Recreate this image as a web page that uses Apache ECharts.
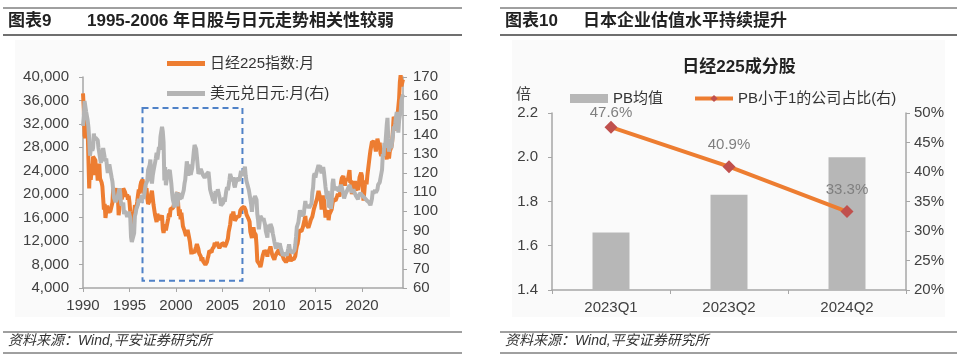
<!DOCTYPE html>
<html><head><meta charset="utf-8">
<script src="https://cdn.jsdelivr.net/npm/echarts@6/dist/echarts.min.js"></script>
<style>html,body{margin:0;padding:0;background:#fff}#c{width:960px;height:360px}</style>
</head><body><div id="c"></div>
<script>
// ---------- Left chart data (monthly, Jan 1990 - Jun 2024) ----------
const startYear = 1990;
const nikkei = [
37189,34592,29980,29584,33131,31940,31036,25978,20984,25194,22455,23849,
23293,26409,26292,26111,25790,23291,24121,22336,23916,25222,22687,22984,
22023,21339,19346,17391,18348,15952,15910,18061,17399,16767,17684,16925,
17024,16953,18591,20919,20552,19591,20380,21027,20106,19704,16408,17417,
20229,19997,19112,19725,20974,20644,20449,20629,19564,19990,19076,19723,
18650,17053,16140,16807,15437,14518,16678,18117,17913,17655,18744,19868,
20813,20125,21407,22041,21956,22531,20693,20167,21556,20467,21020,19361,
18330,18557,18003,19151,20069,20605,20331,18229,17888,16458,16636,15259,
16628,16832,16527,15641,15671,15831,16379,14108,13406,13565,14884,13842,
14499,14368,15837,16702,16112,17530,17862,17437,17606,17942,18558,18934,
19540,19960,20337,17974,16332,17411,15727,16861,15747,14540,14649,13786,
13844,12883,12999,13934,13262,12969,11861,10714,9775,10366,10697,10543,
9998,10587,11025,11493,11764,10622,9877,9620,9383,8640,9216,8579,
8340,8363,7973,7831,8425,9083,9563,10344,10219,10560,10101,10677,
10784,11042,11715,11762,11236,11859,11326,11082,10824,10771,10899,11489,
11388,11741,11669,11009,11277,11584,11900,12414,13574,13607,14872,16111,
16650,16205,17060,16907,15467,15505,15457,16141,16128,16399,16274,17226,
17383,17604,17288,17400,17876,18138,17249,16569,16786,16738,15681,15308,
13592,13603,12526,13850,14339,13482,13377,13073,11260,8577,8512,8860,
7994,7568,8110,8828,9523,9958,10357,10493,10133,10035,9346,10546,
10198,10126,11090,11057,9769,9383,9537,8824,9369,9202,9937,10229,
10238,10624,9755,9850,9694,9816,9833,8955,8700,8988,8435,8455,
8803,9723,10084,9521,8543,9007,8695,8840,8870,8928,9446,10395,
11139,11559,12398,13861,13775,13677,13668,13389,14456,14328,15662,16291,
14915,14841,14828,14304,14632,15162,15621,15425,16174,16414,17460,17451,
17674,18798,19207,19520,20563,20236,20585,18890,17388,19083,19747,19034,
17518,16027,16759,16666,17235,15576,16569,16887,16450,17425,18308,19114,
19041,19119,18909,19197,19651,20033,19925,19646,20356,22012,22725,22765,
23098,22068,21454,22468,22202,22305,22554,22865,24120,21920,22351,20015,
20773,21385,21206,22259,20601,21276,21522,20704,21756,22927,23294,23657,
23205,21143,18917,20194,21878,22288,21710,23140,23185,22977,26434,27444,
27663,28966,29179,28813,28860,28792,27284,28090,29453,28893,27822,28792,
27002,26527,27821,26848,27280,26393,27802,28092,25937,27587,27969,26095,
27327,27446,28041,28856,30888,33189,33172,32619,31858,30859,33487,33464,
36287,39166,40369,38406,38488,39583
];
const usdjpy = [
144.5,149.5,157.5,158.5,152.0,152.9,147.5,144.0,138.0,129.0,132.0,135.4,
131.5,133.0,140.5,137.0,138.5,138.0,137.5,137.0,133.0,130.5,129.5,125.2,
125.5,129.5,133.0,133.5,128.0,126.0,127.5,123.0,120.0,123.0,124.5,124.8,
124.8,117.5,115.5,111.0,107.0,106.5,104.8,104.5,105.5,108.0,109.0,111.9,
109.5,104.5,103.0,102.5,104.5,98.5,100.0,99.5,98.5,97.0,98.5,99.7,
99.5,96.5,86.5,84.0,84.5,84.8,88.5,97.5,99.0,101.5,101.5,103.5,
106.5,104.5,106.5,104.5,108.5,109.5,106.5,108.5,111.5,114.0,113.5,115.9,
121.5,120.5,124.0,127.0,116.5,114.5,118.5,121.0,120.5,120.5,127.5,130.5,
127.0,126.5,133.5,132.0,139.0,138.5,144.0,141.5,136.0,116.0,123.0,113.6,
116.5,119.5,119.5,119.5,121.5,121.0,114.5,109.5,106.0,104.5,102.0,102.2,
107.5,110.0,102.5,108.0,107.5,106.0,109.5,106.5,108.0,109.0,111.0,114.4,
116.5,117.5,126.0,123.5,118.5,124.5,125.0,119.0,119.5,122.5,123.5,131.0,
134.5,133.5,132.5,128.5,124.0,119.5,120.0,118.5,122.0,122.5,122.5,118.8,
119.5,117.5,118.0,119.0,119.0,119.5,120.5,116.5,111.5,110.0,109.5,107.2,
105.5,109.5,104.0,110.5,109.5,109.0,111.5,109.5,110.0,105.8,103.0,102.6,
103.5,104.5,107.2,105.0,108.0,110.8,112.5,111.0,113.5,116.3,119.5,117.9,
117.2,115.8,117.8,113.8,112.5,114.5,114.6,117.3,118.0,116.9,115.9,119.0,
121.0,118.5,117.8,119.5,121.7,123.2,118.6,115.8,114.8,115.3,111.2,111.7,
106.4,103.8,99.7,104.0,105.5,106.2,107.9,108.8,106.0,98.4,95.3,90.6,
89.9,97.6,98.3,98.6,95.3,96.4,94.7,93.0,89.6,90.1,86.3,93.0,
90.3,89.0,93.4,94.1,91.2,88.4,86.4,84.2,83.5,80.4,83.7,81.2,
82.1,81.8,83.2,81.2,81.5,80.5,77.0,76.6,77.1,78.2,77.6,76.9,
76.3,80.7,82.8,80.1,78.4,79.8,78.1,78.4,78.0,79.8,82.5,86.7,
91.7,92.6,94.2,97.4,100.5,99.1,97.9,98.2,98.3,98.4,102.4,105.3,
102.0,101.8,103.2,102.2,101.8,101.3,102.8,104.1,109.7,112.3,118.6,119.8,
117.5,119.6,120.1,119.4,124.1,122.5,123.9,121.2,119.9,120.6,123.1,120.4,
121.0,112.7,112.6,106.5,110.7,103.2,102.1,103.4,101.3,104.8,114.5,116.9,
112.8,112.1,111.4,111.5,110.8,112.4,110.3,110.0,112.5,113.7,112.5,112.7,
109.2,106.7,106.3,109.3,108.8,110.8,111.9,111.0,113.7,112.9,113.5,109.7,
108.9,111.4,110.9,111.4,108.3,107.9,108.7,106.3,108.1,108.0,109.5,108.6,
108.4,107.9,107.5,107.2,107.8,107.9,105.8,105.9,105.5,104.7,104.3,103.2,
104.7,106.6,110.7,109.3,109.6,111.1,109.7,110.0,111.3,113.9,113.2,115.1,
115.1,115.0,121.7,129.8,128.7,135.7,133.2,138.9,144.7,148.7,138.0,131.1,
130.1,136.2,132.8,136.3,139.3,144.3,142.3,145.5,149.4,151.7,148.2,141.0,
147.2,150.0,151.3,157.8,157.3,160.9
];
const leftSeriesNames = ['日经225指数:月', '美元兑日元:月(右)'];
// highlight box (data coordinates): years and Nikkei level
const boxYears = [1996.4, 2007.15];
const boxLevels = [34700, 5250];

// ---------- Right chart data ----------
const quarters = ['2023Q1', '2023Q2', '2024Q2'];
const pbMean = [1.66, 1.83, 2.00];
const pbBelow1Share = [47.6, 40.9, 33.3];
const rightSeriesNames = ['PB均值', 'PB小于1的公司占比(右)'];

const toPairs = arr => arr.map((v, i) => [startYear + i / 12, v]);

const FONT = '"Liberation Sans", Arial, "Noto Sans CJK SC", sans-serif';
const CJK = '"Liberation Sans", "Noto Sans CJK SC", sans-serif';
const AXIS_COLOR = '#A6A6A6';
const LABEL_COLOR = '#404040';

const chart = echarts.init(document.getElementById('c'), null, {renderer: 'canvas'});

const headerGraphics = [];
function panelDecor(x0, x1, num, title, titleX) {
  headerGraphics.push(
    {type: 'rect', shape: {x: x0 + 12, y: 40, width: x1 - x0 - 24, height: 277}, style: {fill: '#fafafa'}, z: -10, silent: true},
    {type: 'line', shape: {x1: x0, y1: 8, x2: x1, y2: 8}, style: {stroke: '#404040', lineWidth: 1}},
    {type: 'line', shape: {x1: x0, y1: 35, x2: x1, y2: 35}, style: {stroke: '#404040', lineWidth: 1.5}},
    {type: 'text', left: x0 + 5, top: 13, style: {text: num, font: 'bold 17px ' + CJK, fill: '#222'}},
    {type: 'text', left: titleX, top: 13, style: {text: title, font: 'bold 17px ' + CJK, fill: '#222'}},
    {type: 'line', shape: {x1: x0, y1: 332, x2: x1, y2: 332}, style: {stroke: '#404040', lineWidth: 1}},
    {type: 'line', shape: {x1: x0, y1: 353, x2: x1, y2: 353}, style: {stroke: '#404040', lineWidth: 1}},
    {type: 'text', left: x0 + 5, top: 334, style: {text: '资料来源：Wind,平安证券研究所', font: 'italic 14px ' + CJK, fill: '#333'}}
  );
}
panelDecor(3, 462, '图表9', '1995-2006 年日股与日元走势相关性较弱', 87);
panelDecor(500, 957, '图表10', '日本企业估值水平持续提升', 583);
headerGraphics.push({type: 'text', left: 516, top: 87, style: {text: '倍', font: '15px ' + CJK, fill: LABEL_COLOR}});

const option = {
  animation: false,
  backgroundColor: '#ffffff',
  textStyle: {fontFamily: FONT},
  title: {
    text: '日经225成分股', left: 734, top: 54, textAlign: 'center',
    textStyle: {fontSize: 17, fontWeight: 'bold', color: '#222', fontFamily: CJK}
  },
  graphic: headerGraphics,
  legend: [
    {
      data: [{name: leftSeriesNames[0], icon: 'rect'}, {name: leftSeriesNames[1], icon: 'rect'}],
      orient: 'vertical', left: 162, top: 51,
      itemWidth: 38, itemHeight: 5, itemGap: 15,
      textStyle: {fontSize: 15, color: '#333', fontFamily: CJK}
    },
    {
      data: [{name: rightSeriesNames[0], icon: 'rect'}, {name: rightSeriesNames[1]}],
      orient: 'horizontal', left: 565, top: 86,
      itemWidth: 38, itemHeight: 9, itemGap: 30,
      lineStyle: {width: 4},
      textStyle: {fontSize: 15, color: '#333', fontFamily: CJK}
    }
  ],
  grid: [
    {left: 83, right: 557, top: 77, bottom: 72},
    {left: 552, right: 54, top: 113, bottom: 70}
  ],
  xAxis: [
    {
      type: 'value', gridIndex: 0, min: 1990, max: 2024.42, interval: 5,
      axisLine: {show: true, lineStyle: {color: AXIS_COLOR, width: 1.5}},
      axisTick: {show: true, length: 4, lineStyle: {color: AXIS_COLOR}},
      axisLabel: {color: LABEL_COLOR, fontSize: 15, margin: 10, showMaxLabel: false,
        formatter: v => (Math.abs(v % 5) < 1e-6 ? String(Math.round(v)) : '')},
      splitLine: {show: false}
    },
    {
      type: 'category', gridIndex: 1, data: quarters,
      axisLine: {show: true, lineStyle: {color: AXIS_COLOR, width: 1.5}},
      axisTick: {show: true, length: 4, lineStyle: {color: AXIS_COLOR}},
      axisLabel: {color: LABEL_COLOR, fontSize: 15, margin: 10}
    }
  ],
  yAxis: [
    {
      type: 'value', gridIndex: 0, position: 'left', min: 4000, max: 40000, interval: 4000,
      axisLine: {show: true, lineStyle: {color: AXIS_COLOR, width: 1.5}},
      axisTick: {show: true, length: 4, lineStyle: {color: AXIS_COLOR}},
      axisLabel: {color: LABEL_COLOR, fontSize: 15, margin: 14, formatter: v => v.toLocaleString('en-US')},
      splitLine: {show: false}
    },
    {
      type: 'value', gridIndex: 0, position: 'right', min: 60, max: 170, interval: 10,
      axisLine: {show: true, lineStyle: {color: AXIS_COLOR, width: 1.5}},
      axisTick: {show: true, length: 4, lineStyle: {color: AXIS_COLOR}},
      axisLabel: {color: LABEL_COLOR, fontSize: 15, margin: 10},
      splitLine: {show: false}
    },
    {
      type: 'value', gridIndex: 1, position: 'left', min: 1.4, max: 2.2, interval: 0.2,
      axisLine: {show: true, lineStyle: {color: AXIS_COLOR, width: 1.5}},
      axisTick: {show: true, length: 4, lineStyle: {color: AXIS_COLOR}},
      axisLabel: {color: LABEL_COLOR, fontSize: 15, margin: 14, formatter: v => v.toFixed(1)},
      splitLine: {show: false}
    },
    {
      type: 'value', gridIndex: 1, position: 'right', min: 20, max: 50, interval: 5,
      axisLine: {show: true, lineStyle: {color: AXIS_COLOR, width: 1.5}},
      axisTick: {show: true, length: 4, lineStyle: {color: AXIS_COLOR}},
      axisLabel: {color: LABEL_COLOR, fontSize: 15, margin: 8, formatter: '{value}%'},
      splitLine: {show: false}
    }
  ],
  series: [
    {
      name: leftSeriesNames[0], type: 'line', xAxisIndex: 0, yAxisIndex: 0,
      data: toPairs(nikkei), showSymbol: false, symbol: 'none', clip: true,
      lineStyle: {color: '#ED7D31', width: 4}, itemStyle: {color: '#ED7D31'},
      markArea: {
        silent: true,
        itemStyle: {color: 'rgba(0,0,0,0)', borderColor: '#4F81C7', borderWidth: 2, borderType: [6, 4]},
        data: [[{coord: [boxYears[0], boxLevels[0]]}, {coord: [boxYears[1], boxLevels[1]]}]]
      }
    },
    {
      name: leftSeriesNames[1], type: 'line', xAxisIndex: 0, yAxisIndex: 1,
      data: toPairs(usdjpy), showSymbol: false, symbol: 'none', clip: true,
      lineStyle: {color: '#B4B4B4', width: 4}, itemStyle: {color: '#B4B4B4'}
    },
    {
      name: rightSeriesNames[0], type: 'bar', xAxisIndex: 1, yAxisIndex: 2,
      data: pbMean, barWidth: 37, itemStyle: {color: '#B7B7B7'}
    },
    {
      name: rightSeriesNames[1], type: 'line', xAxisIndex: 1, yAxisIndex: 3,
      data: pbBelow1Share.map((v, i) => (i === 0 ? {value: v, label: {distance: 0}} : v)),
      symbol: 'diamond', symbolSize: 13,
      lineStyle: {color: '#ED7D31', width: 4}, itemStyle: {color: '#C0504D'},
      label: {show: true, position: 'top', distance: 8, color: '#7F7F7F', fontSize: 15, formatter: '{c}%'}
    }
  ]
};
chart.setOption(option);
</script>
</body></html>
